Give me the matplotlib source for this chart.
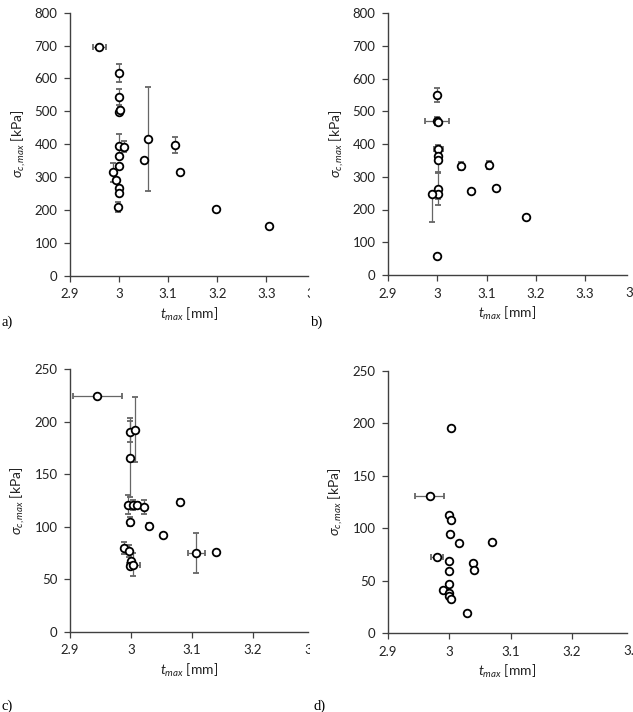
import numpy as np
import matplotlib.pyplot as plt
from matplotlib.transforms import Bbox, TransformedBbox

plt.rcParams['font.family'] = ['Lato', 'DejaVu Sans']
plt.rcParams['mathtext.fontset'] = 'custom'
plt.rcParams['mathtext.rm'] = 'Lato'
plt.rcParams['mathtext.it'] = 'Lato:italic'

# panel a
xa = [2.960, 3.000, 3.000, 3.000, 3.001, 3.000, 3.010, 2.999, 3.000, 2.988,
      2.993, 2.999, 2.999, 2.998, 3.050, 3.059, 3.113, 3.124, 3.197, 3.306]
ya = [695, 616, 543, 499, 504, 396, 393, 363, 334, 315,
      291, 266, 253, 210, 351, 416, 398, 315, 202, 152]
ya_err = [0, 27, 25, 8, 8, 36, 18, 0, 0, 29,
          0, 8, 10, 15, 0, 157, 24, 5, 3, 3]
xa_err = [0.013, 0, 0, 0, 0, 0, 0.005, 0, 0, 0.005,
          0, 0, 0, 0, 0, 0, 0, 0, 0, 0]

# panel b
xb = [3.000, 3.000, 3.001, 3.002, 3.001, 3.002, 3.001, 3.001, 2.989, 2.999,
      3.048, 3.105, 3.069, 3.120, 3.180]
yb = [550, 471, 468, 385, 364, 350, 263, 247, 247, 58,
      333, 337, 257, 265, 176]
yb_lo = [22, 12, 10, 12, 0, 36, 48, 15, 85, 0, 12, 12, 0, 8, 4]
yb_hi = [22, 12, 10, 12, 0, 36, 48, 15, 0, 0, 12, 12, 0, 8, 4]
xb_err = [0, 0.024, 0, 0.009, 0, 0, 0, 0, 0, 0, 0, 0, 0, 0, 0]

# panel c
xc = [2.945, 2.999, 3.006, 2.998, 2.995, 3.003, 3.009, 3.022, 2.999, 3.030,
      3.052, 3.080, 2.989, 2.997, 3.000, 2.998, 3.004, 3.107, 3.140]
yc = [224.6, 190.6, 192.5, 166, 121, 121, 121, 119, 105, 101,
      92.4, 124, 80, 77, 68, 63, 64, 75, 76]
yc_err = [0, 10, 31, 38, 9, 5, 3, 7, 4, 3, 2, 3, 6, 6, 0, 0, 11, 19, 0]
xc_err = [0.04, 0, 0, 0, 0, 0.004, 0, 0, 0, 0,
          0, 0, 0, 0, 0, 0, 0.01, 0.014, 0]

# panel d
xd = [3.003, 2.968, 2.999, 3.002, 3.001, 3.016, 3.070, 2.980, 3.000, 3.039,
      2.999, 3.040, 3.000, 2.989, 2.999, 3.000, 3.002, 3.029]
yd = [196, 130.6, 113, 108, 94, 86, 87, 72.6, 69, 67,
      59, 60, 46.5, 41.4, 38, 35, 32, 19]
yd_err = [1.5, 0, 0, 0, 0, 0, 0, 0, 0, 0, 0, 0, 0, 0, 0, 0, 0, 1]
xd_err = [0.002, 0.024, 0, 0, 0, 0, 0, 0.01, 0, 0,
          0, 0, 0, 0, 0, 0, 0, 0.002]

W, H = 633, 712
fig = plt.figure(figsize=(W / 100, H / 100), dpi=100)

panels = [
    # (rect px: left, top, right, bottom), data, xlim, xticks, ymax, ystep, cut label, clip px, tag, tag pos
    ((70, 12.7, 308, 275.7), (xa, ya, xa_err, ya_err), (2.9, 3.385), [2.9, 3.0, 3.1, 3.2, 3.3], 800, 100, '3.4', 310, 'a)', (1, 322)),
    ((388, 13, 627, 275), (xb, yb, xb_err, [yb_lo, yb_hi]), (2.9, 3.385), [2.9, 3.0, 3.1, 3.2, 3.3], 800, 100, '3.4', 633, 'b)', (311, 322)),
    ((70, 369.3, 308, 632), (xc, yc, xc_err, yc_err), (2.9, 3.29), [2.9, 3.0, 3.1, 3.2], 250, 50, '3.3', 310, 'c)', (1, 706)),
    ((388, 371, 627, 633), (xd, yd, xd_err, yd_err), (2.9, 3.29), [2.9, 3.0, 3.1, 3.2], 250, 50, '3.3', 633, 'd)', (314, 706)),
]

gray = '#404040'
for rect, (x, y, xe, ye), xlim, xticks, ymax, ystep, extra, clipx, tag, tagpos in panels:
    l, t, r, b = rect
    ax = fig.add_axes([l / W, 1 - b / H, (r - l) / W, (b - t) / H])
    ax.errorbar(x, y, xerr=xe, yerr=ye, fmt='o', ms=5.5, mfc='white', mec='black',
                mew=1.3, ecolor='#666666', elinewidth=0.9, capsize=2.2, capthick=0.9,
                zorder=3)
    ax.set_xlim(*xlim)
    ax.set_ylim(0, ymax)
    ax.set_xticks(xticks)
    ax.set_xticklabels([('%g' % v) for v in xticks])
    ax.set_yticks(np.arange(0, ymax + 1, ystep))
    for s in ['top', 'right']:
        ax.spines[s].set_visible(False)
    for s in ['left', 'bottom']:
        ax.spines[s].set_color(gray)
        ax.spines[s].set_linewidth(1.0)
    ax.tick_params(direction='out', length=4, width=0.9, color=gray,
                   labelsize=9.5, labelcolor='#222222', pad=5)
    ax.set_xlabel(r'$t_{max}$ [mm]', fontsize=10, labelpad=4, color='#222222')
    ax.set_ylabel(r'$\sigma_{c,max}$ [kPa]', fontsize=10, labelpad=5, color='#222222')
    # next tick label, cut off at the right edge as in the source
    nx = round(xticks[-1] + 0.1, 1)
    txt = ax.annotate(extra, xy=(nx, 0), xycoords=('data', 'axes fraction'),
                      xytext=(0, -8.6), textcoords='offset points', ha='center',
                      va='top', fontsize=9.5, color='#222222', annotation_clip=False)
    txt.set_clip_on(True)
    txt.set_clip_box(TransformedBbox(Bbox([[0, 0], [clipx / W, 1]]), fig.transFigure))
    fig.text(tagpos[0] / W, 1 - tagpos[1] / H, tag, family='Liberation Serif',
             fontsize=10.5, va='center', ha='left')

fig.savefig('out.png', dpi=100)
